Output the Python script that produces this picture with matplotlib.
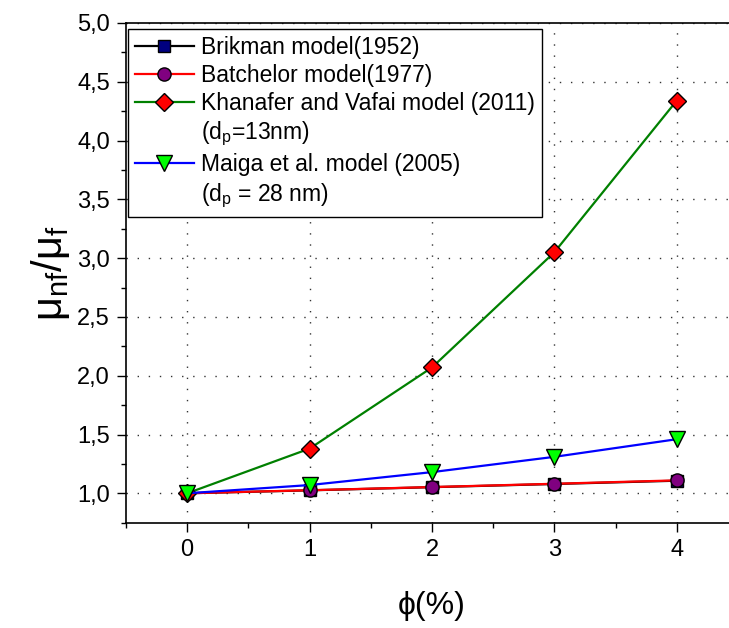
import matplotlib
matplotlib.use("Agg")
import matplotlib.pyplot as plt
from matplotlib.lines import Line2D
from matplotlib.ticker import MultipleLocator, FuncFormatter

plt.rcParams["font.family"] = ["Liberation Sans", "DejaVu Sans"]
plt.rcParams["mathtext.fontset"] = "custom"
plt.rcParams["mathtext.rm"] = "Liberation Sans"
plt.rcParams["mathtext.it"] = "Liberation Sans:italic"

# fração volumétrica (%) e viscosidade relativa de cada modelo
phi = [0, 1, 2, 3, 4]
brinkman = [1.000, 1.025, 1.052, 1.079, 1.107]
batchelor = [1.000, 1.026, 1.053, 1.081, 1.110]
khanafer = [1.000, 1.38, 2.07, 3.05, 4.34]
maiga = [1.000, 1.07, 1.18, 1.31, 1.46]

# estilos (linha, marcador, preenchimento, tamanho)
estilos = [
    dict(color="black", marker="s", mfc="#000080", ms=9),
    dict(color="red", marker="o", mfc="#800080", ms=9.5),
    dict(color="#008000", marker="D", mfc="red", ms=9),
    dict(color="blue", marker="v", mfc="#00FF00", ms=12),
]

fig = plt.figure(figsize=(7.29, 6.28), dpi=100)
# eixo passa um pouco da borda direita (spine da direita fica fora)
ax = fig.add_axes([0.1728, 0.1677, 0.8395, 0.7957])

for serie, est in zip([brinkman, batchelor, khanafer, maiga], estilos):
    ax.plot(phi, serie, lw=1.6, mec="black", mew=1, **est)

ax.set_xlim(-0.5, 4.5)
ax.set_ylim(0.75, 5.0)
ax.xaxis.set_major_locator(MultipleLocator(1))
ax.xaxis.set_minor_locator(MultipleLocator(0.5))
ax.yaxis.set_major_locator(MultipleLocator(0.5))
ax.yaxis.set_minor_locator(MultipleLocator(0.25))
ax.yaxis.set_major_formatter(FuncFormatter(lambda v, p: f"{v:.1f}".replace(".", ",")))

ax.tick_params(which="major", direction="out", length=6.5, width=1, labelsize=17, pad=5)
ax.tick_params(which="minor", direction="out", length=3.5, width=1)
ax.tick_params(top=False, right=False, which="both")
for s in ax.spines.values():
    s.set_linewidth(1.2)

ax.grid(True, which="major", color="black", lw=1, linestyle=(0, (1, 7)), alpha=0.8)
ax.set_axisbelow(True)

ax.set_xlabel("ϕ(%)", fontsize=23, labelpad=22)
ax.set_ylabel(r"$\mathregular{μ_{nf}/μ_f}$", fontsize=30, labelpad=4)

# legenda: linhas extras sem símbolo para o segundo texto de cada modelo
vazio = Line2D([], [], linestyle="none", marker="none")
h = [Line2D([], [], lw=1.6, mec="black", mew=1, **est) for est in estilos]
handles = [h[0], h[1], h[2], vazio, h[3], vazio]
labels = [
    "Brikman model(1952)",
    "Batchelor model(1977)",
    "Khanafer and Vafai model (2011)",
    r"($\mathregular{d_p}$=13nm)",
    "Maiga et al. model (2005)",
    r"($\mathregular{d_p}$ = 28 nm)",
]
leg = ax.legend(handles, labels, loc="upper left", bbox_to_anchor=(0.003, 0.988),
                borderaxespad=0, fontsize=16.5, handlelength=2.6, handletextpad=0.3,
                labelspacing=0.22, borderpad=0.3, fancybox=False, framealpha=1,
                edgecolor="black")
leg.get_frame().set_linewidth(1)

fig.savefig("out.png", dpi=100)
